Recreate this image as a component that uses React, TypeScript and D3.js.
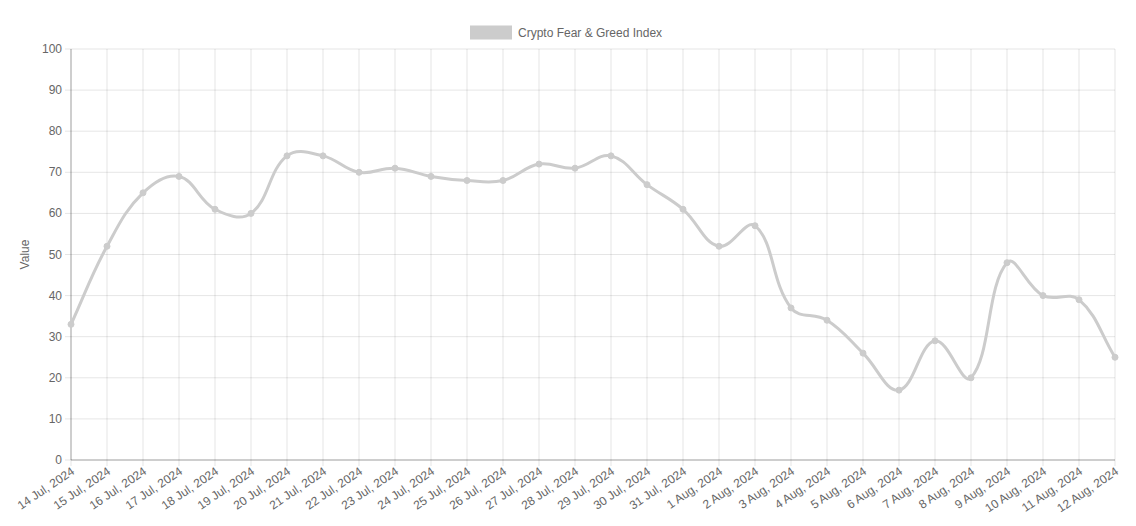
import React from "react"
import * as d3 from "d3"

const WIDTH = 1136
const HEIGHT = 526
const MARGIN = { top: 49, right: 21, bottom: 66, left: 71 }

const dates = [
    "14 Jul, 2024", "15 Jul, 2024", "16 Jul, 2024", "17 Jul, 2024", "18 Jul, 2024",
    "19 Jul, 2024", "20 Jul, 2024", "21 Jul, 2024", "22 Jul, 2024", "23 Jul, 2024",
    "24 Jul, 2024", "25 Jul, 2024", "26 Jul, 2024", "27 Jul, 2024", "28 Jul, 2024",
    "29 Jul, 2024", "30 Jul, 2024", "31 Jul, 2024", "1 Aug, 2024", "2 Aug, 2024",
    "3 Aug, 2024", "4 Aug, 2024", "5 Aug, 2024", "6 Aug, 2024", "7 Aug, 2024",
    "8 Aug, 2024", "9 Aug, 2024", "10 Aug, 2024", "11 Aug, 2024", "12 Aug, 2024",
]
const values = [
    33, 52, 65, 69, 61, 60, 74, 74, 70, 71, 69, 68, 68, 72, 71, 74, 67, 61, 52, 57,
    37, 34, 26, 17, 29, 20, 48, 40, 39, 25,
]
const yTicks = [0, 10, 20, 30, 40, 50, 60, 70, 80, 90, 100]

const LINE_COLOR = "#cccccc"
const FONT = "'Liberation Sans', Arial, Helvetica, sans-serif"

// chart.js style spline (tension 0.4)
const splinePath = (pts: [number, number][], tension = 0.4) => {
    const cps = pts.map((p, i) => {
        const prev = pts[i - 1] || p
        const next = pts[i + 1] || p
        const d01 = Math.hypot(p[0] - prev[0], p[1] - prev[1])
        const d12 = Math.hypot(next[0] - p[0], next[1] - p[1])
        let s01 = d01 / (d01 + d12)
        let s12 = d12 / (d01 + d12)
        s01 = isNaN(s01) ? 0 : s01
        s12 = isNaN(s12) ? 0 : s12
        const fa = tension * s01
        const fb = tension * s12
        return {
            prev: [p[0] - fa * (next[0] - prev[0]), p[1] - fa * (next[1] - prev[1])],
            next: [p[0] + fb * (next[0] - prev[0]), p[1] + fb * (next[1] - prev[1])],
        }
    })
    const path = d3.path()
    path.moveTo(pts[0][0], pts[0][1])
    for (let i = 1; i < pts.length; i++) {
        const a = cps[i - 1].next
        const b = cps[i].prev
        path.bezierCurveTo(a[0], a[1], b[0], b[1], pts[i][0], pts[i][1])
    }
    return path.toString()
}

export default function App() {
    const innerW = WIDTH - MARGIN.left - MARGIN.right
    const innerH = HEIGHT - MARGIN.top - MARGIN.bottom

    const x = d3
        .scalePoint<string>()
        .domain(dates)
        .range([MARGIN.left, MARGIN.left + innerW])
    const y = d3
        .scaleLinear()
        .domain([0, 100])
        .range([MARGIN.top + innerH, MARGIN.top])

    const pts: [number, number][] = values.map((v, i) => [x(dates[i]) as number, y(v)])
    const linePath = splinePath(pts)

    const bottom = MARGIN.top + innerH
    const right = MARGIN.left + innerW

    return (
        <svg
            width={WIDTH}
            height={HEIGHT}
            style={{ position: "absolute", left: 0, top: 0 }}
            fontFamily={FONT}
        >
            {/* grid */}
            {yTicks.map((t) => (
                <line
                    key={"gy" + t}
                    x1={MARGIN.left - 6}
                    x2={right}
                    y1={y(t)}
                    y2={y(t)}
                    stroke="rgba(0,0,0,0.1)"
                />
            ))}
            {dates.map((d) => (
                <line
                    key={"gx" + d}
                    x1={x(d)}
                    x2={x(d)}
                    y1={MARGIN.top}
                    y2={bottom + 6}
                    stroke="rgba(0,0,0,0.1)"
                />
            ))}
            {/* axis lines */}
            <line x1={MARGIN.left} x2={MARGIN.left} y1={MARGIN.top} y2={bottom} stroke="rgba(0,0,0,0.3)" />
            <line x1={MARGIN.left} x2={right} y1={bottom} y2={bottom} stroke="rgba(0,0,0,0.3)" />

            {/* y labels */}
            {yTicks.map((t) => (
                <text
                    key={"ty" + t}
                    x={MARGIN.left - 9}
                    y={y(t)}
                    textAnchor="end"
                    dominantBaseline="central"
                    fontSize={12}
                    fill="#666"
                >
                    {t}
                </text>
            ))}
            <text
                transform={`translate(25,${MARGIN.top + innerH / 2}) rotate(-90)`}
                textAnchor="middle"
                dominantBaseline="central"
                fontSize={12}
                fill="#666"
            >
                Value
            </text>

            {/* x labels */}
            {dates.map((d) => (
                <text
                    key={"tx" + d}
                    transform={`translate(${(x(d) as number) + 2},${bottom + 10}) rotate(-34)`}
                    textAnchor="end"
                    dominantBaseline="central"
                    fontSize={12}
                    fill="#666"
                >
                    {d}
                </text>
            ))}

            {/* series */}
            <path d={linePath} fill="none" stroke={LINE_COLOR} strokeWidth={3} />
            {pts.map((p, i) => (
                <circle key={i} cx={p[0]} cy={p[1]} r={3} fill={LINE_COLOR} stroke={LINE_COLOR} strokeWidth={1} />
            ))}

            {/* legend */}
            <rect x={470} y={25.5} width={42} height={14} fill={LINE_COLOR} />
            <text x={518} y={33} dominantBaseline="central" fontSize={12} fill="#666">
                Crypto Fear &amp; Greed Index
            </text>
        </svg>
    )
}
